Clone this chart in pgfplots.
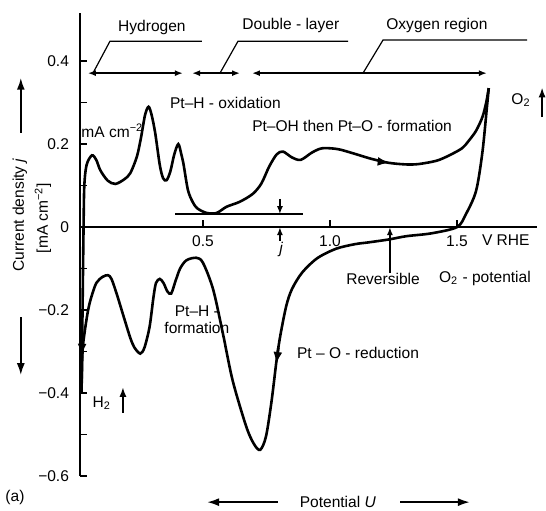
\documentclass[border=0pt]{standalone}
\usepackage{fontspec}
\setmainfont{Liberation Sans}
\usepackage{pgfplots}
\pgfplotsset{compat=1.18}
\usetikzlibrary{arrows.meta}

% cyclic voltammogram, Pt in acid
\begin{document}
\begin{tikzpicture}[font=\fontsize{7.8}{8.6}\selectfont,
  >={Latex[length=4bp,width=3bp]}]
\begin{axis}[
    name=cv,
    scale only axis,
    width=228.5bp, height=231.5bp,
    xmin=0.016, xmax=1.815,
    ymin=-0.6, ymax=0.516,
    hide axis,
    clip=false,
]
% current axis with inward ticks
\draw[line width=1.1bp] (0.016,0.516) -- (0.016,-0.6);
\draw[line width=0.8bp]
  (0.016,-0.6) -- (0.044,-0.6) (0.016,-0.5) -- (0.044,-0.5)
  (0.016,-0.4) -- (0.044,-0.4) (0.016,-0.3) -- (0.044,-0.3)
  (0.016,-0.2) -- (0.044,-0.2) (0.016,-0.1) -- (0.044,-0.1)
  (0.016,0.1) -- (0.044,0.1) (0.016,0.2) -- (0.044,0.2)
  (0.016,0.3) -- (0.044,0.3) (0.016,0.4) -- (0.044,0.4);
\node[anchor=east, xshift=-2bp] at (0.016,-0.6) {−0.6};
\node[anchor=east, xshift=-2bp] at (0.016,-0.4) {−0.4};
\node[anchor=east, xshift=-2bp] at (0.016,-0.2) {−0.2};
\node[anchor=east, xshift=-2bp] at (0.016,0) {0};
\node[anchor=east, xshift=-2bp] at (0.016,0.2) {0.2};
\node[anchor=east, xshift=-2bp] at (0.016,0.4) {0.4};
% potential axis through zero current
\draw[line width=1bp] (0.016,0) -- (1.815,0);
\draw[line width=0.8bp] (0.5,0) -- (0.5,0.016);
\draw[line width=0.8bp] (1.0,0) -- (1.0,0.016);
\draw[line width=0.8bp] (1.5,0) -- (1.5,0.016);
\node[anchor=north] at (0.5,-0.004) {0.5};
\node[anchor=north] at (1.0,-0.004) {1.0};
\node[anchor=north] at (1.5,-0.004) {1.5};

% anodic sweep
\addplot[black, line width=1.3bp, smooth, tension=0.5, mark=none] coordinates {
(0.022,-0.40)(0.026,-0.20)(0.030,0.0)(0.033,0.10)(0.042,0.15)(0.063,0.173)
(0.080,0.162)(0.096,0.137)(0.125,0.112)(0.155,0.104)(0.190,0.115)(0.214,0.130)
(0.240,0.170)(0.256,0.215)(0.272,0.270)(0.286,0.290)(0.298,0.270)(0.312,0.227)
(0.330,0.150)(0.343,0.118)(0.357,0.113)(0.372,0.135)(0.387,0.175)(0.403,0.200)
(0.415,0.175)(0.424,0.150)(0.441,0.089)(0.460,0.060)(0.478,0.045)(0.515,0.034)
(0.554,0.034)(0.593,0.049)(0.645,0.061)(0.696,0.080)(0.730,0.105)(0.760,0.145)
(0.790,0.175)(0.815,0.182)(0.850,0.168)(0.885,0.162)(0.930,0.180)(0.970,0.190)
(1.030,0.188)(1.090,0.178)(1.160,0.165)(1.230,0.155)(1.300,0.151)(1.350,0.152)
(1.420,0.160)(1.470,0.173)(1.520,0.190)(1.545,0.207)(1.575,0.232)(1.600,0.265)
(1.615,0.300)(1.625,0.335)
};
% cathodic sweep
\addplot[black, line width=1.3bp, smooth, tension=0.5, mark=none] coordinates {
(1.625,0.335)(1.618,0.290)(1.600,0.180)(1.575,0.087)(1.535,0.031)(1.500,0.0)
(1.400,-0.015)(1.300,-0.022)(1.230,-0.030)(1.150,-0.037)(1.100,-0.041)
(1.025,-0.052)(0.950,-0.075)(0.890,-0.110)(0.850,-0.150)(0.828,-0.190)
(0.805,-0.260)(0.790,-0.320)(0.770,-0.420)(0.748,-0.505)(0.725,-0.537)
(0.700,-0.522)(0.670,-0.480)(0.617,-0.370)(0.578,-0.255)(0.540,-0.150)
(0.500,-0.086)(0.474,-0.074)(0.435,-0.080)(0.410,-0.100)(0.392,-0.130)
(0.375,-0.160)(0.360,-0.155)(0.345,-0.135)(0.330,-0.125)(0.315,-0.135)
(0.305,-0.170)(0.290,-0.240)(0.270,-0.290)(0.253,-0.305)(0.230,-0.290)
(0.214,-0.267)(0.190,-0.220)(0.160,-0.160)(0.140,-0.125)(0.126,-0.116)
(0.105,-0.120)(0.080,-0.135)(0.060,-0.170)(0.048,-0.200)(0.035,-0.250)
(0.026,-0.300)(0.022,-0.400)
};
% direction arrows on the curve
\addplot[black, line width=1.3bp, mark=none, -{Latex[length=6bp,width=4.5bp]}]
  coordinates {(1.19,0.158)(1.235,0.155)};
\addplot[black, line width=1.3bp, mark=none, -{Latex[length=6bp,width=4.5bp]}]
  coordinates {(0.797,-0.290)(0.789,-0.330)};
\addplot[black, line width=1.3bp, mark=none, -{Latex[length=6bp,width=4.5bp]}]
  coordinates {(0.025,-0.270)(0.022,-0.310)};

% region brackets
\draw[<->, line width=0.9bp] (0.047,0.371) -- (0.421,0.371);
\draw[<->, line width=0.9bp] (0.457,0.371) -- (0.646,0.371);
\draw[<->, line width=0.9bp] (0.693,0.371) -- (1.618,0.371);
\draw[line width=0.6bp] (0.067,0.371) -- (0.134,0.448) -- (0.496,0.448);
\draw[line width=0.6bp] (0.567,0.371) -- (0.638,0.448) -- (1.071,0.448);
\draw[line width=0.6bp] (1.130,0.371) -- (1.209,0.451) -- (1.776,0.451);
\node at (0.299,0.482) {Hydrogen};
\node at (0.846,0.487) {Double - layer};
\node at (1.421,0.487) {Oxygen region};

\node[anchor=west] at (0.343,0.299) {Pt–H - oxidation};
\node[anchor=west, inner sep=0pt] at (0.020,0.232) {mA cm\textsuperscript{−2}};
\node at (1.087,0.243) {Pt–OH then Pt–O - formation};
\node at (1.752,0.306) {O\textsubscript{2}};
\draw[-{Latex[length=5bp,width=3.5bp]}, line width=1bp] (1.835,0.265) -- (1.835,0.337);

% current density marker
\draw[line width=0.8bp] (0.39,0.031) -- (0.894,0.031);
\draw[->, line width=0.8bp] (0.803,0.068) -- (0.803,0.031);
\draw[->, line width=0.8bp] (0.803,-0.033) -- (0.803,0);
\node at (0.808,-0.054) {\textit{j}};

\node[anchor=west] at (1.571,-0.031) {V RHE};
\draw[->, line width=0.8bp] (1.236,-0.111) -- (1.236,0);
\node at (1.209,-0.126) {Reversible};
\node at (1.610,-0.124) {O\textsubscript{2} - potential};
\node[anchor=west] at (0.843,-0.304) {Pt – O - reduction};
\node[align=center] at (0.476,-0.224) {Pt–H -\\formation};
\node at (0.102,-0.424) {H\textsubscript{2}};
\draw[-{Latex[length=5bp,width=3.5bp]}, line width=1bp] (0.185,-0.448) -- (0.185,-0.385);

% axis captions
\node at (1.031,-0.663) {Potential \textit{U}};
\draw[-{Latex[length=6bp,width=4bp]}, line width=1bp] (0.795,-0.663) -- (0.516,-0.663);
\draw[-{Latex[length=6bp,width=4bp]}, line width=1bp] (1.276,-0.663) -- (1.551,-0.663);
\node at (-0.240,-0.651) {(a)};
\node[rotate=90] at (-0.221,0.029) {Current density \textit{j}};
\node[rotate=90] at (-0.130,0.022) {[mA cm\textsuperscript{−2}]};
\draw[-{Latex[length=6bp,width=4bp]}, line width=1bp] (-0.217,0.227) -- (-0.217,0.360);
\draw[-{Latex[length=6bp,width=4bp]}, line width=1bp] (-0.217,-0.217) -- (-0.217,-0.357);
\end{axis}
\pgfresetboundingbox
\path[use as bounding box] ([shift={(-40bp,-17bp)}]cv.south west)
  rectangle ([shift={(4.5bp,6.5bp)}]cv.north east);
\end{tikzpicture}
\end{document}
